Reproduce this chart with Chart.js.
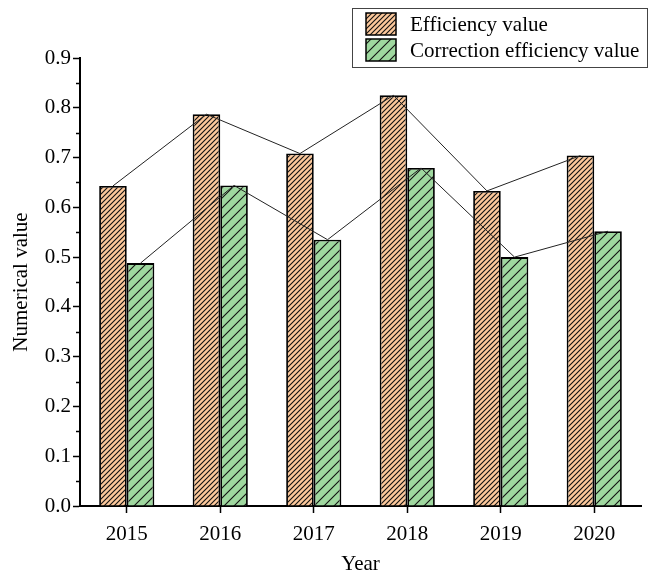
<!DOCTYPE html>
<html>
<head>
<meta charset="utf-8">
<script src="https://cdn.jsdelivr.net/npm/chart.js@4/dist/chart.umd.min.js"></script>
<style>
    html, body { margin: 0; padding: 0; background: #fff; }
    #wrap { width: 655px; height: 573px; }
</style>
</head>
<body>
<div id="wrap"><canvas id="effChart" width="655" height="573"></canvas></div>
<script>
(function () {
    "use strict";

    // years on the x axis
    var years = ['2015', '2016', '2017', '2018', '2019', '2020'];
    // efficiency per year
    var efficiency = [0.643, 0.787, 0.708, 0.825, 0.633, 0.704];
    // correction efficiency per year
    var correction = [0.488, 0.644, 0.535, 0.679, 0.500, 0.552];
    var seriesLabels = ['Efficiency value', 'Correction efficiency value'];
    var yTicks = [0.0, 0.1, 0.2, 0.3, 0.4, 0.5, 0.6, 0.7, 0.8, 0.9];

    var FONT = "'Liberation Serif', 'Times New Roman', serif";

    //hatch fill
    function hatch(bg, gap) {
        var c = document.createElement('canvas');
        c.width = gap; c.height = gap;
        var g = c.getContext('2d');
        g.fillStyle = bg;
        g.fillRect(0, 0, gap, gap);
        g.strokeStyle = '#111';
        g.lineWidth = 1.1;
        g.beginPath();
        g.moveTo(0, gap); g.lineTo(gap, 0);
        g.moveTo(-1, 1); g.lineTo(1, -1);
        g.moveTo(gap - 1, gap + 1); g.lineTo(gap + 1, gap - 1);
        g.stroke();
        return g.createPattern(c, 'repeat');
    }
    var orangeFill = hatch('#fcc89b', 5);
    var greenFill = hatch('#9fd89f', 10);

    // thin polyline through the top centre of each bar of a dataset
    var joinTops = {
        id: 'joinTops',
        afterDatasetsDraw: function (chart) {
            var ctx = chart.ctx;
            ctx.save();
            ctx.strokeStyle = '#222';
            ctx.lineWidth = 1;
            chart.data.datasets.forEach(function (ds, di) {
                var bars = chart.getDatasetMeta(di).data;
                ctx.beginPath();
                bars.forEach(function (bar, i) {
                    if (i === 0) ctx.moveTo(bar.x, bar.y);
                    else ctx.lineTo(bar.x, bar.y);
                });
                ctx.stroke();
            });
            ctx.restore();
        }
    };

    // minor ticks on y, half way between the labelled ones
    var minorTicks = {
        id: 'minorTicks',
        afterDraw: function (chart) {
            var ys = chart.scales.y, ctx = chart.ctx;
            ctx.save();
            ctx.strokeStyle = '#000';
            ctx.lineWidth = 1.5;
            ctx.beginPath();
            for (var i = 0; i < yTicks.length - 1; i++) {
                var py = Math.round(ys.getPixelForValue((yTicks[i] + yTicks[i + 1]) / 2)) + 0.5;
                ctx.moveTo(ys.right - 4, py);
                ctx.lineTo(ys.right, py);
            }
            ctx.stroke();
            ctx.restore();
        }
    };

    // boxed legend top right
    var boxLegend = {
        id: 'boxLegend',
        afterDraw: function (chart) {
            var ctx = chart.ctx;
            var fills = [orangeFill, greenFill];
            ctx.save();
            ctx.fillStyle = '#fff';
            ctx.fillRect(352, 8, 295, 59);
            ctx.strokeStyle = '#444';
            ctx.lineWidth = 1;
            ctx.strokeRect(352.5, 8.5, 295, 59);
            ctx.font = "21px " + FONT;
            ctx.textBaseline = 'middle';
            for (var i = 0; i < seriesLabels.length; i++) {
                var top = 13 + i * 26;
                ctx.fillStyle = fills[i];
                ctx.fillRect(366, top, 30, 22);
                ctx.strokeStyle = '#000';
                ctx.lineWidth = 1.5;
                ctx.strokeRect(366, top, 30, 22);
                ctx.fillStyle = '#000';
                ctx.fillText(seriesLabels[i], 410, top + 12);
            }
            ctx.restore();
        }
    };

    var ctx = document.getElementById('effChart').getContext('2d');
    new Chart(ctx, {
        type: 'bar',
        data: {
            labels: years,
            datasets: [
                {
                    label: seriesLabels[0],
                    data: efficiency,
                    backgroundColor: orangeFill,
                    borderColor: '#000',
                    borderWidth: 1.8,
                    categoryPercentage: 0.59,
                    barPercentage: 1
                },
                {
                    label: seriesLabels[1],
                    data: correction,
                    backgroundColor: greenFill,
                    borderColor: '#000',
                    borderWidth: 1.8,
                    categoryPercentage: 0.59,
                    barPercentage: 1
                }
            ]
        },
        options: {
            responsive: false,
            animation: false,
            layout: { padding: { top: 58, right: 14, bottom: 0, left: 0 } },
            plugins: {
                legend: { display: false },
                tooltip: { enabled: false }
            },
            scales: {
                x: {
                    offset: true,
                    grid: { drawOnChartArea: false, offset: false, tickLength: 7, tickColor: '#000', tickWidth: 1.5 },
                    border: { color: '#000', width: 2 },
                    ticks: { color: '#000', padding: 9, font: { family: FONT, size: 21 } },
                    title: { display: true, text: 'Year', color: '#000', font: { family: FONT, size: 21 }, padding: { top: 0, bottom: -4 } },
                    afterFit: function (s) { s.height = 67; }
                },
                y: {
                    min: 0,
                    max: 0.9,
                    grid: { drawOnChartArea: false, tickLength: 7, tickColor: '#000', tickWidth: 1.5 },
                    border: { color: '#000', width: 2 },
                    ticks: {
                        stepSize: 0.1,
                        color: '#000',
                        padding: 2,
                        font: { family: FONT, size: 21 },
                        callback: function (v) { return Number(v).toFixed(1); }
                    },
                    title: { display: true, text: 'Numerical value', color: '#000', font: { family: FONT, size: 21 }, padding: { top: 9, bottom: 0 } },
                    afterFit: function (s) { s.width = 80; }
                }
            }
        },
        plugins: [joinTops, minorTicks, boxLegend]
    });
})();
</script>
</body>
</html>
